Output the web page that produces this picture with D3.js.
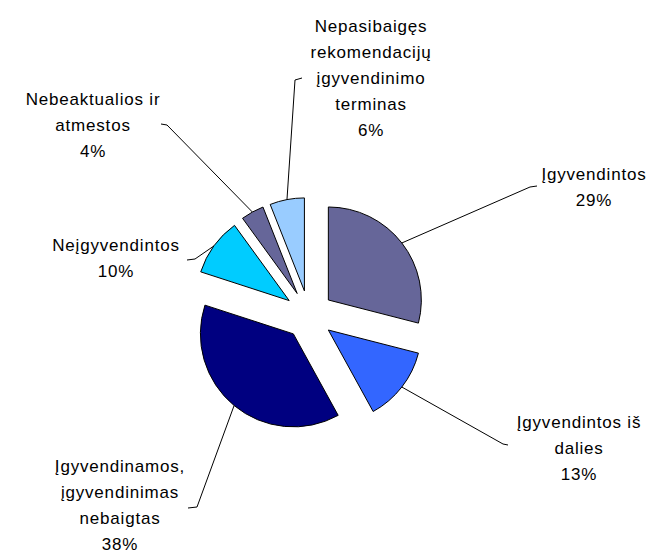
<!DOCTYPE html>
<html>
<head>
<meta charset="utf-8">
<script src="https://cdn.jsdelivr.net/npm/d3@7"></script>
<style>
  html, body { margin: 0; padding: 0; background: #fff; }
  svg { display: block; }
  .lbl { font-family: "Liberation Sans", Arial, sans-serif; font-size: 17px; letter-spacing: 0.8px; fill: #000; }
</style>
</head>
<body>
<div class="pie-container"></div>
<script>
// data
const categories = ['Įgyvendintos', 'Įgyvendintos iš dalies', 'Įgyvendinamos, įgyvendinimas nebaigtas',
                    'Neįgyvendintos', 'Nebeaktualios ir atmestos', 'Nepasibaigęs rekomendacijų įgyvendinimo terminas'];
const values = [29, 13, 38, 10, 4, 6];
// label text as it wraps in the picture
const labelLines = [
  ['Įgyvendintos'],
  ['Įgyvendintos iš', 'dalies'],
  ['Įgyvendinamos,', 'įgyvendinimas', 'nebaigtas'],
  ['Neįgyvendintos'],
  ['Nebeaktualios ir', 'atmestos'],
  ['Nepasibaigęs', 'rekomendacijų', 'įgyvendinimo', 'terminas']
];

// styles / layout
const colors = ['#666699', '#3366ff', '#000080', '#00ccff', '#666699', '#99ccff'];
// label centre x, first baseline y
const labelPos = [[594, 180], [579, 428], [120, 472], [116, 251], [93, 105], [371, 32]];
// leader line: elbow point then end point next to the label
const leaderPts = [
  [[530, 187], [537, 186]],
  [[503, 444], [508, 445]],
  [[197, 507], [188, 508]],
  [[195, 259], [187, 260]],
  [[167, 125], [161, 124]],
  [[295, 80], [302, 78]]
];

const width = 652, height = 555;
const cx = 309, cy = 315, radius = 93, explode = 24.5, lineH = 26;

const svg = d3.select('.pie-container').append('svg')
  .attr('width', width).attr('height', height);

const pie = d3.pie().sort(null).value(d => d.value);
const data = categories.map((c, i) => ({ name: c, value: values[i], i }));
const arcs = pie(data);
const total = d3.sum(values);

const arc = d3.arc().innerRadius(0).outerRadius(radius);
const rimArc = d3.arc().innerRadius(radius).outerRadius(radius);

// explode offset for each slice
const offset = a => {
  const mid = (a.startAngle + a.endAngle) / 2;
  return [Math.sin(mid) * explode, -Math.cos(mid) * explode];
};

const g = svg.append('g').attr('transform', `translate(${cx},${cy})`);

g.selectAll('.slice')
  .data(arcs)
  .enter()
  .append('path')
    .attr('class', 'slice')
    .attr('transform', d => `translate(${offset(d)})`)
    .attr('d', arc)
    .style('fill', d => colors[d.data.i])
    .style('stroke', '#000')
    .style('stroke-width', 1);

// leader lines
const line = d3.line();
svg.selectAll('.leader')
  .data(arcs)
  .enter()
  .append('path')
    .attr('class', 'leader')
    .attr('d', d => {
      const o = offset(d);
      const p = rimArc.centroid(d);
      const start = [cx + p[0] + o[0], cy + p[1] + o[1]];
      return line([start, ...leaderPts[d.data.i]]);
    })
    .style('fill', 'none')
    .style('stroke', '#000')
    .style('stroke-width', 1);

// labels
arcs.forEach(d => {
  const i = d.data.i;
  const lines = labelLines[i].concat([Math.round(d.value / total * 100) + '%']);
  const t = svg.append('text').attr('class', 'lbl').attr('text-anchor', 'middle');
  lines.forEach((s, k) => {
    t.append('tspan')
      .attr('x', labelPos[i][0])
      .attr('y', labelPos[i][1] + k * lineH)
      .text(s);
  });
});
</script>
</body>
</html>
